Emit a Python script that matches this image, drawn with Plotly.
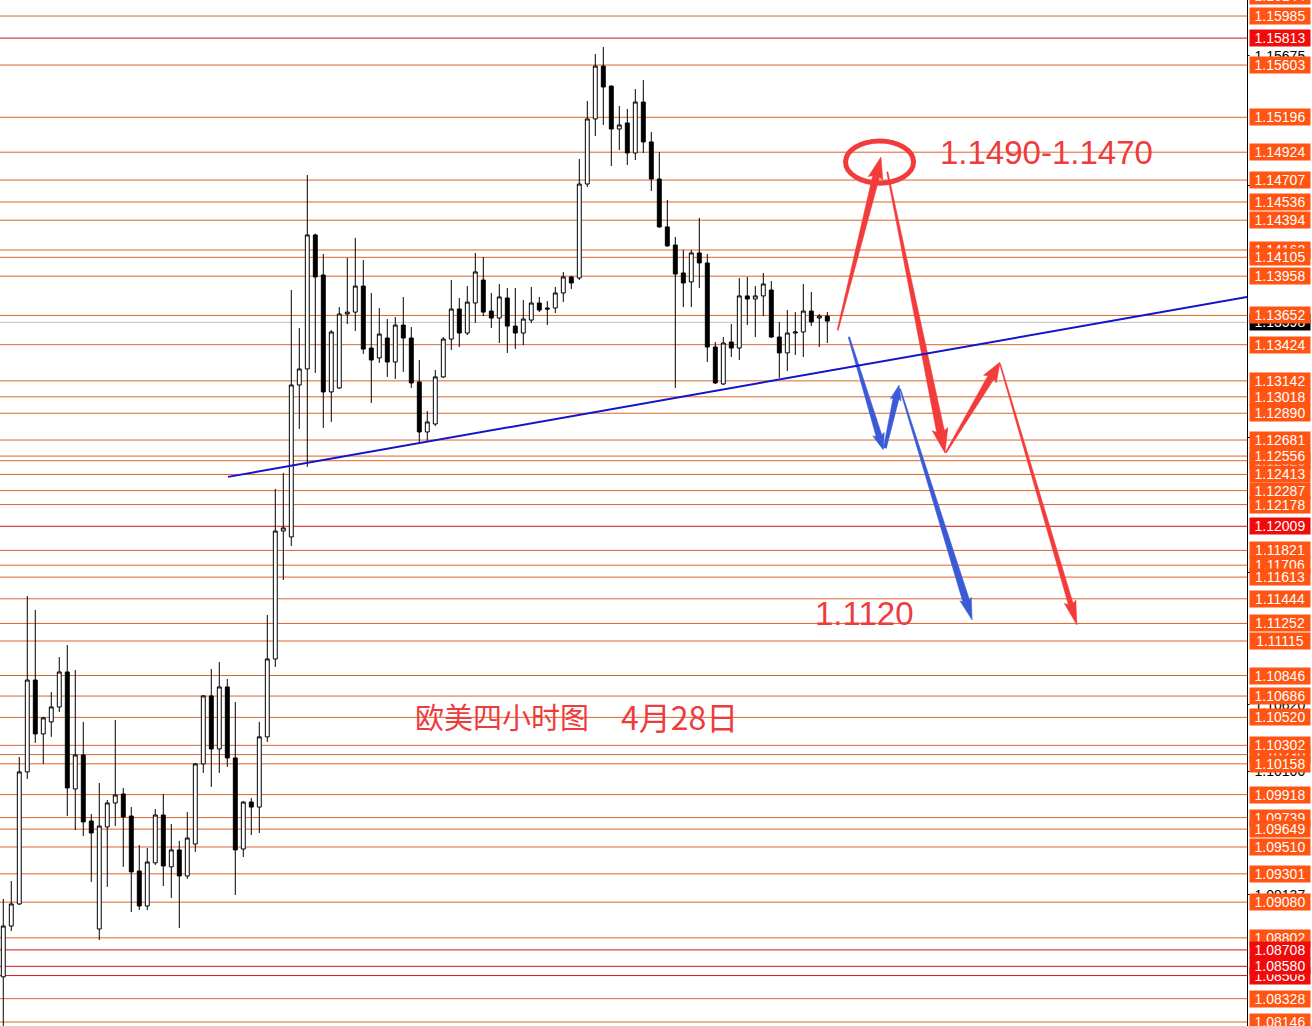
import math
import plotly.graph_objects as go

# ---------------- data (EUR/USD 4H candles) ----------------
opens = [1.08498, 1.08894, 1.09066, 1.10095, 1.10811, 1.10391, 1.10485, 1.10601, 1.10874, 1.09962,
         1.10227, 1.09712, 1.08871, 1.09666, 1.09853, 1.09923, 1.09751, 1.09323, 1.09050, 1.09386,
         1.09759, 1.09355, 1.09487, 1.09284, 1.09533, 1.10157, 1.10687, 1.10274, 1.10757, 1.10204,
         1.09494, 1.09860, 1.09821, 1.10368, 1.10975, 1.11972, 1.11926, 1.13110, 1.13235, 1.14279,
         1.13967, 1.13056, 1.13087, 1.13663, 1.13678, 1.13881, 1.13398, 1.13321, 1.13476, 1.13289,
         1.13577, 1.13476, 1.13134, 1.12744, 1.12806, 1.13173, 1.13468, 1.13702, 1.13515, 1.13749,
         1.13928, 1.13686, 1.13632, 1.13788, 1.13569, 1.13515, 1.13616, 1.13749, 1.13710, 1.13710,
         1.13827, 1.13952, 1.13944, 1.14676, 1.15183, 1.15595, 1.15439, 1.15105, 1.15152, 1.14918,
         1.15315, 1.15004, 1.14715, 1.14342, 1.14201, 1.13983, 1.13913, 1.14139, 1.14061, 1.13406,
         1.13118, 1.13445, 1.13398, 1.13804, 1.13780, 1.13804, 1.13850, 1.13484, 1.13360, 1.13515,
         1.13523, 1.13686, 1.13632, 1.13647]
highs = [1.09105, 1.09245, 1.10211, 1.11466, 1.11357, 1.10524, 1.10718, 1.10990, 1.11084, 1.10889,
         1.10485, 1.09767, 1.10009, 1.09876, 1.10500, 1.09970, 1.09821, 1.09525, 1.09502, 1.09806,
         1.09923, 1.09689, 1.09557, 1.09782, 1.10165, 1.10694, 1.10897, 1.10951, 1.10819, 1.10640,
         1.09868, 1.09892, 1.10485, 1.11318, 1.12300, 1.12425, 1.13850, 1.13554, 1.14746, 1.14290,
         1.14131, 1.13538, 1.13717, 1.14100, 1.14256, 1.14084, 1.13827, 1.13710, 1.13624, 1.13640,
         1.13796, 1.13562, 1.13305, 1.12907, 1.13227, 1.13484, 1.13928, 1.13788, 1.13881, 1.14139,
         1.14107, 1.13827, 1.13897, 1.13866, 1.13866, 1.13772, 1.13874, 1.13796, 1.13764, 1.13874,
         1.13991, 1.13960, 1.14871, 1.15323, 1.15689, 1.15744, 1.15445, 1.15284, 1.15261, 1.15416,
         1.15486, 1.15082, 1.14925, 1.14552, 1.14264, 1.14162, 1.14162, 1.14412, 1.14131, 1.13445,
         1.13484, 1.13585, 1.13944, 1.13952, 1.13881, 1.13983, 1.13920, 1.13601, 1.13694, 1.13678,
         1.13897, 1.13835, 1.13663, 1.13678]
lows = [1.08100, 1.08855, 1.09058, 1.10040, 1.10321, 1.10157, 1.10368, 1.10562, 1.09751, 1.09642,
        1.09595, 1.09238, 1.08785, 1.09199, 1.09673, 1.09355, 1.09003, 1.09019, 1.09019, 1.09370,
        1.09206, 1.09113, 1.08879, 1.09261, 1.09471, 1.10087, 1.09978, 1.10087, 1.10134, 1.09136,
        1.09432, 1.09603, 1.09619, 1.10329, 1.10913, 1.11590, 1.11856, 1.12767, 1.12472, 1.13204,
        1.12775, 1.12822, 1.13079, 1.13585, 1.13530, 1.13352, 1.12970, 1.13282, 1.13173, 1.13157,
        1.13212, 1.13087, 1.12658, 1.12674, 1.12790, 1.13165, 1.13383, 1.13406, 1.13499, 1.13593,
        1.13647, 1.13554, 1.13437, 1.13360, 1.13390, 1.13421, 1.13593, 1.13678, 1.13577, 1.13671,
        1.13756, 1.13858, 1.13928, 1.14653, 1.15050, 1.15136, 1.14816, 1.14941, 1.14824, 1.14863,
        1.14918, 1.14622, 1.14334, 1.14186, 1.13087, 1.13717, 1.13717, 1.13866, 1.13289, 1.13118,
        1.13110, 1.13328, 1.13305, 1.13577, 1.13484, 1.13647, 1.13476, 1.13165, 1.13219, 1.13344,
        1.13328, 1.13569, 1.13406, 1.13437]
closes = [1.08894, 1.09066, 1.10095, 1.10811, 1.10391, 1.10516, 1.10601, 1.10874, 1.09970, 1.10227,
          1.09705, 1.09619, 1.09673, 1.09853, 1.09915, 1.09744, 1.09316, 1.09050, 1.09393, 1.09759,
          1.09362, 1.09487, 1.09284, 1.09580, 1.10157, 1.10687, 1.10274, 1.10757, 1.10204, 1.09487,
          1.09860, 1.09821, 1.10368, 1.10975, 1.11972, 1.11996, 1.13110, 1.13235, 1.14279, 1.13952,
          1.13056, 1.13523, 1.13663, 1.13678, 1.13881, 1.13390, 1.13305, 1.13507, 1.13289, 1.13577,
          1.13476, 1.13126, 1.12744, 1.12822, 1.13173, 1.13468, 1.13702, 1.13515, 1.13756, 1.13991,
          1.13678, 1.13632, 1.13796, 1.13569, 1.13515, 1.13624, 1.13749, 1.13694, 1.13702, 1.13827,
          1.13952, 1.13905, 1.14676, 1.15183, 1.15595, 1.15432, 1.15105, 1.15136, 1.14918, 1.15315,
          1.15004, 1.14715, 1.14342, 1.14194, 1.13975, 1.13905, 1.14139, 1.14061, 1.13406, 1.13126,
          1.13437, 1.13398, 1.13804, 1.13780, 1.13804, 1.13897, 1.13484, 1.13360, 1.13515, 1.13523,
          1.13686, 1.13601, 1.13647, 1.13608]
candle_index = list(range(len(opens)))

# horizontal levels (price, kind) kind: 'o' orange, 'r' red
level_prices = [1.15985, 1.15813, 1.15603, 1.15196, 1.14924, 1.14707, 1.14536, 1.14394, 1.14162,
                1.14105, 1.13958, 1.13652, 1.13424, 1.13142, 1.13018, 1.12890, 1.12681, 1.12556,
                1.12520, 1.12413, 1.12287, 1.12178, 1.12009, 1.11821, 1.11706, 1.11613, 1.11444,
                1.11252, 1.11115, 1.10846, 1.10686, 1.10520, 1.10302, 1.10230, 1.10158, 1.09918,
                1.09739, 1.09649, 1.09510, 1.09301, 1.09080, 1.08802, 1.08708, 1.08580, 1.08508,
                1.08328, 1.08146]
level_kinds = ['o', 'r', 'o', 'o', 'o', 'o', 'o', 'o', 'o',
               'o', 'o', 'o', 'o', 'o', 'o', 'o', 'o', 'o',
               'o', 'o', 'o', 'o', 'r', 'o', 'o', 'o', 'o',
               'o', 'o', 'o', 'o', 'o', 'o', 'o', 'o', 'o',
               'o', 'o', 'o', 'o', 'o', 'o', 'r', 'r', 'r',
               'o', 'o']
# labels partly hidden beneath others (drawn first)
under_label_prices = [1.16144, 1.15675, 1.13598, 1.12520, 1.10620, 1.10230, 1.10100, 1.09137, 1.08508]
under_label_kinds = ['o', 'w', 'k', 'o', 'w', 'o', 'w', 'w', 'r']
axis_tick_prices = [1.15675, 1.14668, 1.12697, 1.11645, 1.10620, 1.10100, 1.09137]
current_price = 1.13598

# trend line and scenario arrows (candle index, price)
trend_start = (28.09, 1.12394)
trend_end = (155.46, 1.13796)
red_arrows = [((104.3, 1.13538), (109.7, 1.14886)),
              ((110.5, 1.14770), (117.7, 1.12581)),
              ((117.8, 1.12581), (124.6, 1.13289)),
              ((124.6, 1.13273), (134.2, 1.11240))]
red_arrow_dims = [(1.2, 7, 20, 15), (1.2, 8, 22, 16), (1.2, 7, 18, 15), (1.0, 5, 22, 12)]
blue_arrows = [((105.7, 1.13484), (110.0, 1.12604)),
               ((110.2, 1.12619), (111.97, 1.13110)),
               ((112.1, 1.13079), (121.1, 1.11279))]
blue_arrow_dims = [(1.5, 6, 15, 12), (3, 6, 14, 11), (1.0, 7, 20, 12)]
target_circle = (109.53, 1.14847, 4.25, 0.00164)

X_RANGE = [-0.41, 155.46]
Y_RANGE = [1.08115, 1.16110]
W, H = 1312, 1026
M_R = 65
PLOT_W, PLOT_H = W - M_R, H

ORANGE_LINE = "#D9662B"
RED_LINE = "#CF161B"
ORANGE_LABEL = "#FF5412"
RED_LABEL = "#F00A0A"
TXT_RED = "#EE3C3C"
ARROW_RED = "#F23B3B"
ARROW_BLUE = "#3B5BD6"


def to_px(x, y):
    return ((x - X_RANGE[0]) / (X_RANGE[1] - X_RANGE[0]) * PLOT_W,
            (Y_RANGE[1] - y) / (Y_RANGE[1] - Y_RANGE[0]) * PLOT_H)


def from_px(px, py):
    return (X_RANGE[0] + px / PLOT_W * (X_RANGE[1] - X_RANGE[0]),
            Y_RANGE[1] - py / PLOT_H * (Y_RANGE[1] - Y_RANGE[0]))


def arrow_poly(start, tip, dims):
    w0, w1, hl, hw = dims
    sx, sy = to_px(*start)
    tx, ty = to_px(*tip)
    dx, dy = tx - sx, ty - sy
    L = math.hypot(dx, dy)
    ux, uy = dx / L, dy / L
    nx, ny = -uy, ux
    bx, by = tx - ux * hl, ty - uy * hl
    cx, cy = tx - ux * hl * 1.1, ty - uy * hl * 1.1
    pts = [(sx + nx * w0 / 2, sy + ny * w0 / 2),
           (bx + nx * w1 / 2, by + ny * w1 / 2),
           (cx + nx * hw / 2, cy + ny * hw / 2),
           (tx, ty),
           (cx - nx * hw / 2, cy - ny * hw / 2),
           (bx - nx * w1 / 2, by - ny * w1 / 2),
           (sx - nx * w0 / 2, sy - ny * w0 / 2)]
    pts.append(pts[0])
    data = [from_px(px, py) for px, py in pts]
    return [d[0] for d in data], [d[1] for d in data]


fig = go.Figure()

fig.add_trace(go.Candlestick(
    x=candle_index, open=opens, high=highs, low=lows, close=closes,
    increasing=dict(line=dict(color="black", width=1), fillcolor="white"),
    decreasing=dict(line=dict(color="black", width=1), fillcolor="black"),
    whiskerwidth=0, showlegend=False, hoverinfo="skip"))

for (s, t), d in zip(red_arrows, red_arrow_dims):
    xs, ys = arrow_poly(s, t, d)
    fig.add_trace(go.Scatter(x=xs, y=ys, mode="lines", fill="toself", fillcolor=ARROW_RED,
                             line=dict(color=ARROW_RED, width=0.5), showlegend=False, hoverinfo="skip"))
for (s, t), d in zip(blue_arrows, blue_arrow_dims):
    xs, ys = arrow_poly(s, t, d)
    fig.add_trace(go.Scatter(x=xs, y=ys, mode="lines", fill="toself", fillcolor=ARROW_BLUE,
                             line=dict(color=ARROW_BLUE, width=0.5), showlegend=False, hoverinfo="skip"))

shapes = []
for p, k in zip(level_prices, level_kinds):
    shapes.append(dict(type="line", xref="paper", x0=0, x1=1, yref="y", y0=p, y1=p, layer="below",
                       line=dict(color=RED_LINE if k == "r" else ORANGE_LINE, width=1)))
shapes.append(dict(type="line", xref="paper", x0=0, x1=1, yref="y", y0=current_price, y1=current_price,
                   layer="below", line=dict(color="#C0C0C0", width=1)))
shapes.append(dict(type="line", xref="x", yref="y", x0=trend_start[0], y0=trend_start[1],
                   x1=trend_end[0], y1=trend_end[1], line=dict(color="#1414C8", width=2)))
cx, cy, rx, ry = target_circle
shapes.append(dict(type="circle", xref="x", yref="y", x0=cx - rx, x1=cx + rx, y0=cy - ry, y1=cy + ry,
                   line=dict(color=ARROW_RED, width=5)))

annotations = []
PX_PER_PRICE = PLOT_H / (Y_RANGE[1] - Y_RANGE[0])


def label(p, kind):
    styles = {"o": (ORANGE_LABEL, "white"), "r": (RED_LABEL, "white"),
              "k": ("black", "white"), "w": ("white", "black")}
    bg, fc = styles[kind]
    y = min(p, Y_RANGE[1])
    shift = (p - y) * PX_PER_PRICE
    return dict(xref="paper", x=1, xanchor="left", xshift=2, yref="y", y=y, yanchor="middle",
                yshift=shift, text=f"{p:.5f}", showarrow=False, bgcolor=bg, width=58, height=14,
                borderpad=1, align="center", font=dict(family="Liberation Sans", size=14, color=fc))


for p, k in zip(under_label_prices, under_label_kinds):
    annotations.append(label(p, k))
for p, k in zip(level_prices, level_kinds):
    if p in under_label_prices:
        continue
    annotations.append(label(p, k))

annotations.append(dict(xref="x", yref="y", x=116.8, y=1.14925, xanchor="left", yanchor="middle",
                        text="1.1490-1.1470", showarrow=False,
                        font=dict(family="Liberation Sans", size=33, color=TXT_RED)))
annotations.append(dict(xref="x", yref="y", x=101.2, y=1.11326, xanchor="left", yanchor="middle",
                        text="1.1120", showarrow=False,
                        font=dict(family="Liberation Sans", size=33, color=TXT_RED)))
annotations.append(dict(xref="x", yref="y", x=51.2, y=1.10531, xanchor="left", yanchor="middle",
                        text="欧美四小时图", showarrow=False,
                        font=dict(family="Noto Sans CJK SC", size=29, color=TXT_RED)))
annotations.append(dict(xref="x", yref="y", x=77.0, y=1.10531, xanchor="left", yanchor="middle",
                        text="4月28日", showarrow=False,
                        font=dict(family="Noto Sans CJK SC", size=32, color=TXT_RED)))

fig.update_layout(
    width=W, height=H, margin=dict(l=0, r=M_R, t=0, b=0),
    paper_bgcolor="white", plot_bgcolor="white", showlegend=False,
    shapes=shapes, annotations=annotations,
    xaxis=dict(range=X_RANGE, visible=False, rangeslider=dict(visible=False), fixedrange=True),
    yaxis=dict(range=Y_RANGE, side="right", showgrid=False, zeroline=False, showline=True,
               linecolor="black", linewidth=1, ticks="outside", ticklen=4, tickcolor="black",
               tickvals=axis_tick_prices, showticklabels=False, fixedrange=True),
)

fig.write_html("out.html", config={"displayModeBar": False},
               post_script="document.body.style.margin='0';document.body.style.overflow='hidden';")
